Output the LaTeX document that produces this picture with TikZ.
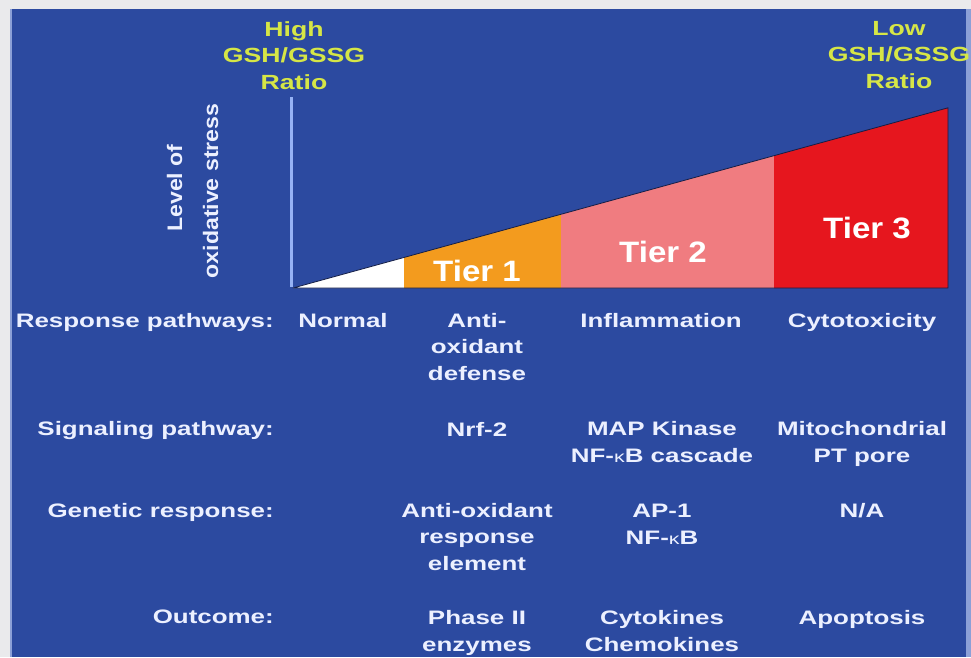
\documentclass[tikz,border=0pt]{standalone}
\usepackage{fontspec}
\setmainfont{Liberation Sans}
\newfontfamily\rowfont{Liberation Sans Bold}[FakeStretch=1.33]
\newfontfamily\topfont{Liberation Sans Bold}[FakeStretch=1.3]
\newfontfamily\tierfont{Liberation Sans Bold}[FakeStretch=1.12]
\newfontfamily\axfont{Liberation Sans Bold}[FakeStretch=1.1]
\newfontfamily\kapfont{Liberation Sans}[FakeStretch=1.33]
\newcommand{\kap}{{\kapfont\fontsize{16}{26.5}\selectfont κ}}
\definecolor{bgblue}{RGB}{44,74,160}
\definecolor{edgeblue}{RGB}{140,160,215}
\definecolor{frame}{RGB}{234,234,236}
\definecolor{axisblue}{RGB}{150,178,245}
\definecolor{ylw}{RGB}{214,230,70}
\definecolor{txt}{RGB}{236,240,255}
\definecolor{tierorange}{RGB}{243,155,30}
\definecolor{tierpink}{RGB}{240,124,128}
\definecolor{tierred}{RGB}{230,22,30}
\definecolor{navy}{RGB}{20,30,70}
\tikzset{
  rowtxt/.style={text=txt, font=\rowfont\fontsize{19.5}{26.5}\selectfont, align=center, anchor=base, inner sep=0pt},
  rowlab/.style={text=txt, font=\rowfont\fontsize{19.5}{26.5}\selectfont, anchor=base east, inner sep=0pt},
  toptxt/.style={text=ylw, font=\topfont\fontsize{20.5}{26.5}\selectfont, align=center, anchor=base, inner sep=0pt},
  tiertxt/.style={text=white, font=\tierfont\fontsize{29.5}{30}\selectfont, anchor=base, inner sep=0pt},
  axtxt/.style={text=txt, font=\axfont\fontsize{21}{26}\selectfont, rotate=90, anchor=base, inner sep=0pt}
}
\begin{document}
\begin{tikzpicture}[x=1pt,y=-1pt]
\useasboundingbox (0,0) rectangle (971,657);
% frame and background
\fill[frame] (0,0) rectangle (971,657);
\fill[edgeblue] (10,9) rectangle (971,657);
\fill[bgblue] (12,9) rectangle (966,657);
% triangle segments
\fill[white] (293,288) -- (404,257.5) -- (404,288) -- cycle;
\fill[tierorange] (404,288) -- (404,257.5) -- (561,214.3) -- (561,288) -- cycle;
\fill[tierpink] (561,288) -- (561,214.3) -- (774,155.7) -- (774,288) -- cycle;
\fill[tierred] (774,288) -- (774,155.7) -- (948,107.8) -- (948,288) -- cycle;
\draw[navy, line width=0.8pt, line join=round] (293,288) -- (948,107.8) -- (948,288) -- cycle;
% axis
\coordinate (axtop) at (291,97);
\coordinate (axbot) at (291,287);
\draw[axisblue, line width=3pt] (axtop) -- (axbot);
% top labels (anchored at last-line baseline)
\node[toptxt] (high) at (294,89) {High\\GSH/GSSG\\Ratio};
\node[toptxt] (low) at (899,88) {Low\\GSH/GSSG\\Ratio};
% axis title
\node[axtxt] (lvl) at (182,188) {Level of};
\node[axtxt] (oxs) at (218,191) {oxidative stress};
% tiers
\node[tiertxt] (t1) at (477,281) {Tier 1};
\node[tiertxt] (t2) at (663,262) {Tier 2};
\node[tiertxt] (t3) at (867,238) {Tier 3};
% row labels
\node[rowlab] (lr) at (274,327) {Response pathways:};
\node[rowlab] (ls) at (274,435) {Signaling pathway:};
\node[rowlab] (lg) at (274,517) {Genetic response:};
\node[rowlab] (lo) at (274,623) {Outcome:};
% response pathways
\node[rowtxt] (r0) at (343,327) {Normal};
\node[rowtxt] (r1) at (477,380) {Anti-\\oxidant\\defense};
\node[rowtxt] (r2) at (661,327) {Inflammation};
\node[rowtxt] (r3) at (862,327) {Cytotoxicity};
% signaling
\node[rowtxt] (s1) at (477,436) {Nrf-2};
\node[rowtxt] (s2) at (662,462) {MAP Kinase\\NF-\kap B cascade};
\node[rowtxt] (s3) at (862,462) {Mitochondrial\\PT pore};
% genetic
\node[rowtxt] (g1) at (477,570) {Anti-oxidant\\response\\element};
\node[rowtxt] (g2) at (662,544) {AP-1\\NF-\kap B};
\node[rowtxt] (g3) at (862,517) {N/A};
% outcome
\node[rowtxt] (o1) at (477,651) {Phase II\\enzymes};
\node[rowtxt] (o2) at (662,651) {Cytokines\\Chemokines};
\node[rowtxt] (o3) at (862,624) {Apoptosis};
\end{tikzpicture}
\end{document}
